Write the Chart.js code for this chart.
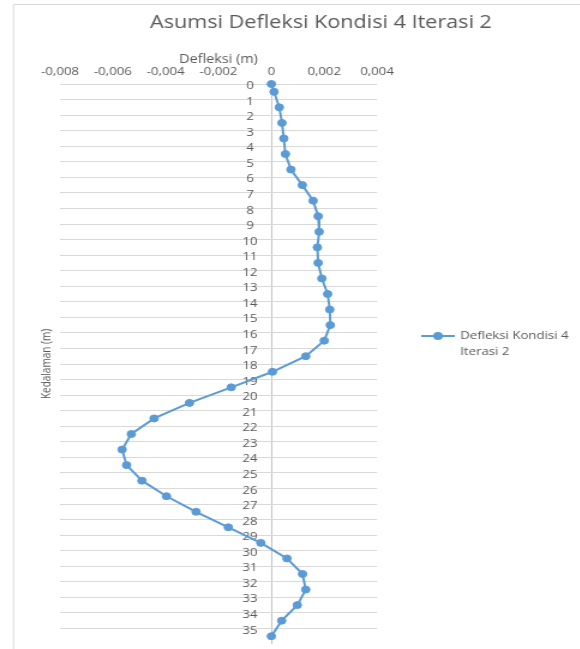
<!DOCTYPE html>
<html>
<head>
<meta charset="utf-8">
<script src="https://cdn.jsdelivr.net/npm/chart.js@4.4.0/dist/chart.umd.min.js"></script>
<style>
  html, body { margin: 0; padding: 0; background: #fff; overflow: hidden; }
  /* gambar asli terlihat melebar ~1.2x secara horizontal */
  #wrap { width: 484px; height: 649px; transform: scale(1.2, 1); transform-origin: 0 0; }
</style>
</head>
<body>
<div id="wrap"><canvas id="chart" width="484" height="649"></canvas></div>
<script>
// kedalaman (m), titik
const depth = [0, 0.5, 1.5, 2.5, 3.5, 4.5, 5.5, 6.5, 7.5, 8.5, 9.5, 10.5, 11.5, 12.5,
  13.5, 14.5, 15.5, 16.5, 17.5, 18.5, 19.5, 20.5, 21.5, 22.5, 23.5, 24.5, 25.5,
  26.5, 27.5, 28.5, 29.5, 30.5, 31.5, 32.5, 33.5, 34.5, 35.5]

// defleksi (m)
const deflection = [0, 0.0001, 0.0003, 0.0004, 0.00047, 0.00053, 0.00074, 0.00117,
  0.00158, 0.00177, 0.00181, 0.00174, 0.00177, 0.00191, 0.00213, 0.00221, 0.00223,
  0.002, 0.0013, 0.00004, -0.00152, -0.0031, -0.00444, -0.0053, -0.00565, -0.00548,
  -0.0049, -0.00397, -0.00285, -0.00163, -0.0004, 0.00059, 0.00118, 0.0013,
  0.00098, 0.00039, 0]

const seriesName = ['Defleksi Kondisi 4', 'Iterasi 2']
const chartTitle = 'Asumsi Defleksi Kondisi 4 Iterasi 2'
const xTitle = 'Defleksi (m)'
const yTitle = 'Kedalaman (m)'

const blue = '#5B9BD5'
const textGray = '#595959'

function fmtX(v) {
    if (Math.abs(v) < 1e-9) return '0'
    return v.toFixed(3).replace('.', ',')
}

// bingkai, judul, legenda dua baris
const frameAndLegend = {
    id: 'frameAndLegend',
    beforeDraw(chart) {
        const ctx = chart.ctx
        ctx.save()
        ctx.strokeStyle = '#d9d9d9'
        ctx.lineWidth = 1
        ctx.beginPath()
        ctx.moveTo(11.25, 649)
        ctx.lineTo(11.25, 4.5)
        ctx.lineTo(chart.width, 4.5)
        ctx.stroke()
        ctx.fillStyle = textGray
        ctx.font = '18px "Open Sans"'
        ctx.textAlign = 'center'
        ctx.textBaseline = 'alphabetic'
        ctx.fillText(chartTitle, 267.5, 28)
        ctx.restore()
    },
    afterDraw(chart) {
        const ctx = chart.ctx
        const y = 336
        ctx.save()
        ctx.strokeStyle = blue
        ctx.lineWidth = 2
        ctx.beginPath()
        ctx.moveTo(351, y)
        ctx.lineTo(379, y)
        ctx.stroke()
        ctx.fillStyle = blue
        ctx.beginPath()
        ctx.arc(365, y, 4, 0, Math.PI * 2)
        ctx.fill()
        ctx.fillStyle = textGray
        ctx.font = '11px "Open Sans"'
        ctx.textBaseline = 'middle'
        ctx.textAlign = 'left'
        seriesName.forEach((t, i) => ctx.fillText(t, 383.5, y + i * 15.5))
        ctx.restore()
    },
}

const ctx = document.getElementById('chart').getContext('2d')

new Chart(ctx, {
    type: 'scatter',
    data: {
        datasets: [
            {
                label: seriesName.join(' '),
                data: depth.map((d, i) => ({ x: deflection[i], y: d })),
                showLine: true,
                borderColor: blue,
                backgroundColor: blue,
                borderWidth: 2,
                pointRadius: 3.5,
                pointBorderWidth: 1,
                pointBackgroundColor: blue,
                pointBorderColor: blue,
                tension: 0,
                clip: false,
            },
        ],
    },
    options: {
        responsive: false,
        animation: false,
        layout: { padding: { top: 42.6, left: 0, right: 169.8, bottom: 2.3 } },
        plugins: {
            legend: { display: false },
            tooltip: { enabled: false },
            title: { display: false },
        },
        scales: {
            x: {
                type: 'linear',
                position: 'top',
                min: -0.008,
                max: 0.004,
                ticks: {
                    stepSize: 0.002,
                    color: textGray,
                    font: { family: '"Open Sans"', size: 11 },
                    padding: 6,
                    maxRotation: 0,
                    callback: (v) => fmtX(v),
                },
                grid: {
                    drawTicks: false,
                    color: (c) => (c.tick && Math.abs(c.tick.value) < 1e-9 ? '#bfbfbf' : 'rgba(0,0,0,0)'),
                    lineWidth: 1,
                },
                border: { display: false },
                title: {
                    display: true,
                    text: xTitle,
                    color: textGray,
                    font: { family: '"Open Sans"', size: 12 },
                    padding: { top: 10, bottom: 0 },
                },
                afterFit: (scale) => {
                    scale.height = 41.4
                    scale.paddingLeft = 0
                    scale.paddingRight = 0
                },
            },
            y: {
                type: 'linear',
                position: 'left',
                reverse: true,
                min: 0,
                max: 36,
                ticks: {
                    stepSize: 1,
                    autoSkip: false,
                    mirror: true,
                    crossAlign: 'center',
                    color: textGray,
                    font: { family: '"Open Sans"', size: 11 },
                    padding: 152,
                    labelOffset: 2,
                    callback: (v) => (v >= 36 ? '' : String(v)),
                },
                grid: {
                    drawTicks: false,
                    color: (c) => (c.tick && c.tick.value >= 36 ? 'rgba(0,0,0,0)' : '#d9d9d9'),
                    lineWidth: 1,
                },
                border: { display: false },
                title: {
                    display: true,
                    text: yTitle,
                    color: textGray,
                    font: { family: '"Open Sans"', size: 10 },
                    padding: { top: 33, bottom: 0 },
                },
                afterFit: (scale) => {
                    scale.width = 50
                    scale.paddingTop = 0
                    scale.paddingBottom = 0
                },
            },
        },
    },
    plugins: [frameAndLegend],
})
</script>
</body>
</html>
